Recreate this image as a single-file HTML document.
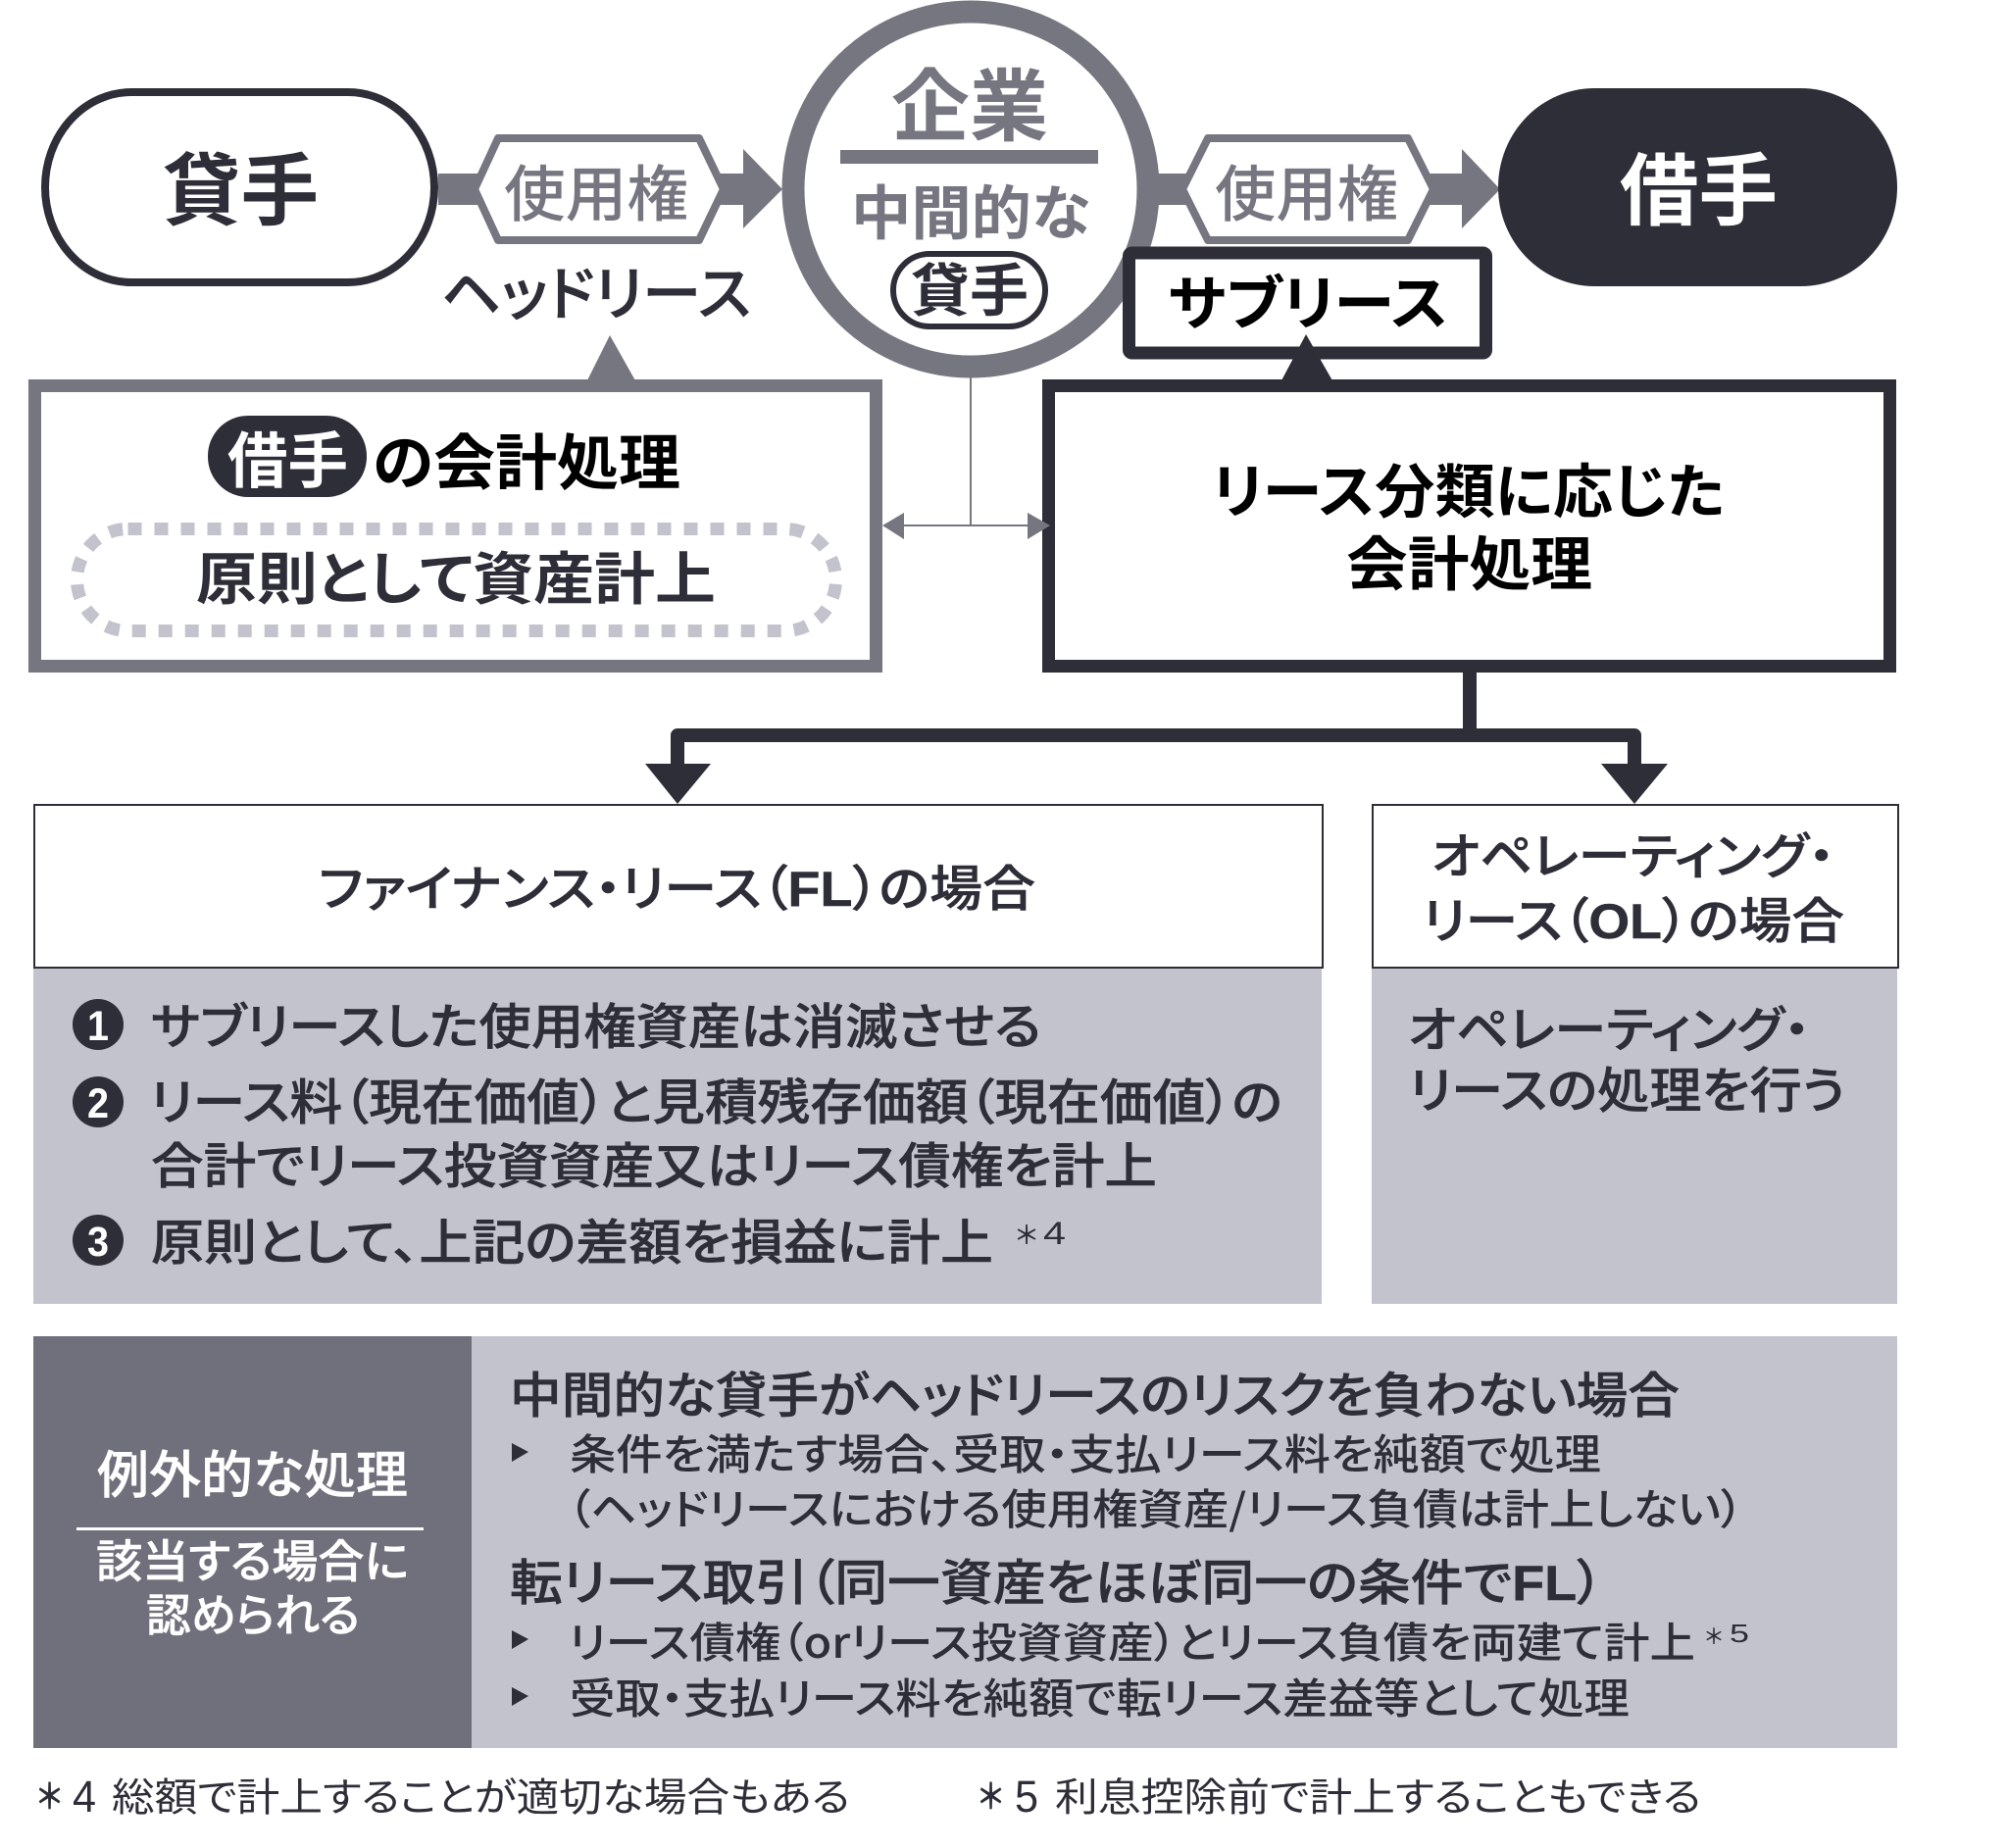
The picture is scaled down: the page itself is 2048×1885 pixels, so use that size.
<!DOCTYPE html>
<html lang="ja"><head><meta charset="utf-8"><title>サブリース</title>
<style>
html,body{margin:0;padding:0;background:#fff}
svg{display:block}
text{font-family:"Liberation Sans","Noto Sans CJK JP",sans-serif;fill:#2e2e38;font-weight:500;font-feature-settings:"palt"}
.j{font-family:"Noto Sans CJK JP","Liberation Sans",sans-serif}
.b{font-weight:700}
.g{fill:#767681}
.w{fill:#fff}
.k{fill:#000}
.m{stroke:#2e2e38;stroke-width:.5}
.mw{stroke:#fff;stroke-width:.5}
.L{font-family:"Liberation Sans",sans-serif;font-weight:700}
</style></head><body>
<svg width="2048" height="1885" viewBox="0 0 2048 1885" xmlns="http://www.w3.org/2000/svg">
<rect width="2048" height="1885" fill="#fff"/>
<!-- top connectors -->
<rect x="447" y="177" width="50" height="32" fill="#767681"/>
<rect x="725" y="177" width="40" height="32" fill="#767681"/>
<polygon points="758,152 798,193 758,233" fill="#767681"/>
<rect x="1170" y="177" width="50" height="32" fill="#767681"/>
<rect x="1450" y="177" width="45" height="32" fill="#767681"/>
<polygon points="1491,152 1530,193 1491,233" fill="#767681"/>
<polygon points="484,193 508,141 713,141 738,193 713,245 508,245" fill="#fff" stroke="#767681" stroke-width="8" stroke-linejoin="round"/>
<polygon points="1206,193 1232,141 1436,141 1462,193 1436,245 1232,245" fill="#fff" stroke="#767681" stroke-width="8" stroke-linejoin="round"/>
<!-- pills -->
<rect x="46" y="94" width="397" height="194" rx="88" ry="97" fill="#fff" stroke="#2e2e38" stroke-width="8"/>
<rect x="1528" y="90" width="407" height="202" rx="98" ry="101" fill="#2e2e38"/>
<!-- circle -->
<circle cx="990" cy="193" r="181" fill="#fff" stroke="#767681" stroke-width="23"/>
<rect x="857" y="153" width="263" height="14" fill="#767681"/>
<rect x="911" y="259" width="155" height="74" rx="37" fill="#fff" stroke="#2e2e38" stroke-width="6"/>
<!-- thin connector -->
<path d="M990 385V536M918 536H1052" fill="none" stroke="#767681" stroke-width="2"/>
<!-- boxes -->
<polygon points="622,342 598,390 649,390" fill="#767681"/>
<rect x="35.5" y="393.5" width="858" height="286" fill="#fff" stroke="#767681" stroke-width="13"/>
<polygon points="900,536 922,523 922,550" fill="#767681"/>
<rect x="1151.5" y="258" width="364" height="102" rx="3" fill="#fff" stroke="#2e2e38" stroke-width="13"/>
<rect x="1069.5" y="393.5" width="858" height="286" fill="#fff" stroke="#2e2e38" stroke-width="13"/>
<polygon points="1332,341 1306,390 1360,390" fill="#2e2e38"/>
<polygon points="1071,536 1048,523 1048,550" fill="#767681"/>
<rect x="212" y="424" width="162" height="83" rx="41" fill="#2e2e38"/>
<rect x="78.5" y="539.5" width="774" height="104" rx="52" fill="none" stroke="#c3c3cd" stroke-width="13" stroke-dasharray="14 13"/>
<!-- tree -->
<path d="M1499 686V750M691 790V750H1667V790" fill="none" stroke="#2e2e38" stroke-width="14" stroke-linejoin="round"/>
<polygon points="658,779 725,779 691,820" fill="#2e2e38"/>
<polygon points="1633,779 1701,779 1667,820" fill="#2e2e38"/>
<!-- case panels -->
<rect x="34" y="987" width="1314" height="343" fill="#c3c3cd"/>
<rect x="1399" y="987" width="536" height="343" fill="#c3c3cd"/>
<rect x="35" y="821" width="1314" height="166" fill="#fff" stroke="#2e2e38" stroke-width="2"/>
<rect x="1400" y="821" width="536" height="166" fill="#fff" stroke="#2e2e38" stroke-width="2"/>
<rect x="34" y="1363" width="1901" height="420" fill="#c3c3cd"/>
<rect x="34" y="1363" width="447" height="420" fill="#70707c"/>
<rect x="78" y="1558" width="354" height="3" fill="#fff"/>
<ellipse cx="100" cy="1045" rx="26" ry="26" fill="#2e2e38"/><ellipse cx="100" cy="1124" rx="26" ry="26" fill="#2e2e38"/><ellipse cx="100" cy="1265" rx="26" ry="26" fill="#2e2e38"/>
<polygon points="522,1472 539,1481 522,1491" fill="#2e2e38"/>
<polygon points="522,1663 539,1672 522,1682" fill="#2e2e38"/>
<polygon points="522,1721 539,1730 522,1740" fill="#2e2e38"/>

<!-- texts -->
<text class="j b" x="166" y="223" font-size="80" textLength="159" lengthAdjust="spacingAndGlyphs">貸手</text>
<text class="j g" x="514" y="220" font-size="62" textLength="188" lengthAdjust="spacingAndGlyphs">使用権</text>
<text class="j g" x="1239" y="220" font-size="62" textLength="187" lengthAdjust="spacingAndGlyphs">使用権</text>
<text class="j w b" x="1652" y="223" font-size="80" textLength="161" lengthAdjust="spacingAndGlyphs">借手</text>
<text class="j g b" x="909" y="137" font-size="80" textLength="160" lengthAdjust="spacingAndGlyphs">企業</text>
<text class="j g b" x="868" y="239" font-size="60" textLength="244" lengthAdjust="spacingAndGlyphs">中間的な</text>
<text class="j b" x="929" y="317" font-size="58" textLength="120" lengthAdjust="spacingAndGlyphs">貸手</text>
<text class="j m" x="450" y="321" font-size="60" textLength="316" lengthAdjust="spacingAndGlyphs">ヘッドリース</text>
<text class="j k b" x="1191" y="331" font-size="60" textLength="286" lengthAdjust="spacingAndGlyphs">サブリース</text>
<text class="j w b" x="232" y="492" font-size="62" textLength="123" lengthAdjust="spacingAndGlyphs">借手</text>
<text class="j k b" x="380" y="494" font-size="62" textLength="314" lengthAdjust="spacingAndGlyphs">の会計処理</text>
<text class="j b" x="200" y="611" font-size="58" textLength="530" lengthAdjust="spacingAndGlyphs">原則として資産計上</text>
<text class="j k b" x="1236" y="523" font-size="60" textLength="523" lengthAdjust="spacingAndGlyphs">リース分類に応じた</text>
<text class="j k b" x="1373" y="597" font-size="60" textLength="251" lengthAdjust="spacingAndGlyphs">会計処理</text>

<text class="j m" x="325" y="924" font-size="50" textLength="731" lengthAdjust="spacingAndGlyphs">ファイナンス・リース（<tspan class="L">FL</tspan>）の場合</text>
<text class="j m" x="1460" y="891" font-size="50" textLength="411" lengthAdjust="spacingAndGlyphs">オペレーティング・</text>
<text class="j m" x="1451" y="957" font-size="50" textLength="430" lengthAdjust="spacingAndGlyphs">リース（<tspan class="L">OL</tspan>）の場合</text>

<text class="w L" x="100" y="1061" font-size="43" text-anchor="middle" textLength="22" lengthAdjust="spacingAndGlyphs">1</text>
<text class="w L" x="100" y="1140" font-size="43" text-anchor="middle" textLength="22" lengthAdjust="spacingAndGlyphs">2</text>
<text class="w L" x="100" y="1281" font-size="43" text-anchor="middle" textLength="22" lengthAdjust="spacingAndGlyphs">3</text>
<text class="j m" x="154" y="1065" font-size="50" textLength="908" lengthAdjust="spacingAndGlyphs">サブリースした使用権資産は消滅させる</text>
<text class="j m" x="153" y="1142" font-size="50" textLength="1155" lengthAdjust="spacingAndGlyphs">リース料（現在価値）と見積残存価額（現在価値）の</text>
<text class="j m" x="154" y="1207" font-size="50" textLength="1026" lengthAdjust="spacingAndGlyphs">合計でリース投資資産又はリース債権を計上</text>
<text class="j m" x="154" y="1285" font-size="50" textLength="859" lengthAdjust="spacingAndGlyphs">原則として、上記の差額を損益に計上</text>
<text class="j" x="1036" y="1269" font-size="26" textLength="22" lengthAdjust="spacingAndGlyphs">＊</text>
<text class="L" x="1064" y="1269" font-size="32" textLength="23" lengthAdjust="spacingAndGlyphs" style="font-weight:400">4</text>
<text class="j m" x="1436" y="1068" font-size="50" textLength="410" lengthAdjust="spacingAndGlyphs">オペレーティング・</text>
<text class="j m" x="1437" y="1130" font-size="50" textLength="445" lengthAdjust="spacingAndGlyphs">リースの処理を行う</text>

<text class="j w mw" x="99" y="1523" font-size="52" textLength="317" lengthAdjust="spacingAndGlyphs">例外的な処理</text>
<text class="j w mw" x="98" y="1609" font-size="46" textLength="319" lengthAdjust="spacingAndGlyphs">該当する場合に</text>
<text class="j w mw" x="149" y="1664" font-size="46" textLength="218" lengthAdjust="spacingAndGlyphs">認められる</text>

<text class="j m" x="520" y="1441" font-size="50" textLength="1193" lengthAdjust="spacingAndGlyphs">中間的な貸手がヘッドリースのリスクを負わない場合</text>
<text class="j" x="581" y="1499" font-size="43" textLength="1052" lengthAdjust="spacingAndGlyphs">条件を満たす場合、受取・支払リース料を純額で処理</text>
<text class="j" x="579" y="1555" font-size="43" textLength="1199" lengthAdjust="spacingAndGlyphs">（ヘッドリースにおける使用権資産/リース負債は計上しない）</text>
<text class="j m" x="520" y="1632" font-size="50" textLength="1115" lengthAdjust="spacingAndGlyphs">転リース取引（同一資産をほぼ同一の条件で<tspan class="L">FL</tspan>）</text>
<text class="j" x="580" y="1691" font-size="43" textLength="1149" lengthAdjust="spacingAndGlyphs">リース債権（orリース投資資産）とリース負債を両建て計上</text>
<text class="j" x="1739" y="1677" font-size="22" textLength="18" lengthAdjust="spacingAndGlyphs">＊</text>
<text class="L" x="1764" y="1675" font-size="26" textLength="20" lengthAdjust="spacingAndGlyphs" style="font-weight:400">5</text>
<text class="j" x="581" y="1748" font-size="43" textLength="1081" lengthAdjust="spacingAndGlyphs">受取・支払リース料を純額で転リース差益等として処理</text>

<text class="j b" x="38" y="1845" font-size="36" textLength="25" lengthAdjust="spacingAndGlyphs">＊</text>
<text class="L" x="74" y="1848" font-size="45" textLength="24" lengthAdjust="spacingAndGlyphs" style="font-weight:400">4</text>
<text class="j" x="114" y="1847" font-size="40" textLength="753" lengthAdjust="spacingAndGlyphs" style="font-weight:400">総額で計上することが適切な場合もある</text>
<text class="j b" x="998" y="1845" font-size="36" textLength="25" lengthAdjust="spacingAndGlyphs">＊</text>
<text class="L" x="1035" y="1848" font-size="45" textLength="24" lengthAdjust="spacingAndGlyphs" style="font-weight:400">5</text>
<text class="j" x="1076" y="1847" font-size="40" textLength="659" lengthAdjust="spacingAndGlyphs" style="font-weight:400">利息控除前で計上することもできる</text>
</svg>
</body></html>
